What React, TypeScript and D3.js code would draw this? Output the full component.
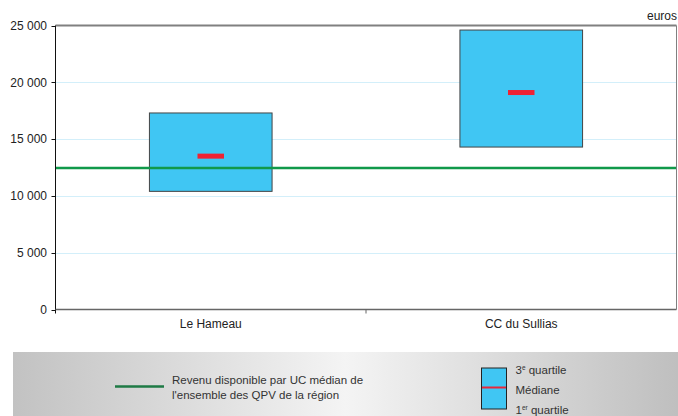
import React from "react";
import * as d3 from "d3";

const categories = ["Le Hameau", "CC du Sullias"];
const q1 = [10400, 14300];
const median = [13500, 19100];
const q3 = [17300, 24600];
const regionMedian = 12450;
const yTicks = [0, 5000, 10000, 15000, 20000, 25000];
const legendLine = ["Revenu disponible par UC médian de", "l'ensemble des QPV de la région"];

const W = 678, H = 416;
const left = 55.5, right = 676.5, top = 25.5, bottom = 309.5;
const font = "'Liberation Sans', Arial, sans-serif";

export default function App() {
  const x = d3.scaleBand<string>().domain(categories).range([left, right]);
  const y = d3.scaleLinear().domain([0, 25000]).range([bottom, top]);
  const fmt = (v: number) => d3.format(",")(v).replace(/,/g, " ");
  const boxW = x.bandwidth() * 0.395;
  const medW = 26.5;

  return (
    <svg width={W} height={H} style={{ position: "absolute", left: 0, top: 0, fontFamily: font }}>
      <defs>
        <linearGradient id="lg" x1="0" x2="1" y1="0" y2="0">
          <stop offset="0" stopColor="#c2c2c2" />
          <stop offset="0.5" stopColor="#f4f4f4" />
          <stop offset="1" stopColor="#bfbfbf" />
        </linearGradient>
      </defs>
      <rect width={W} height={H} fill="#fff" />
      {yTicks.filter(t => t > 0 && t < 25000).map(t => (
        <line key={t} x1={left} x2={right} y1={Math.round(y(t)) + 0.5} y2={Math.round(y(t)) + 0.5} stroke="#d3effa" strokeWidth={1} />
      ))}
      {categories.map((c, i) => {
        const cx = x(c)! + x.bandwidth() / 2;
        return (
          <g key={c}>
            <rect x={cx - boxW / 2} y={y(q3[i])} width={boxW} height={y(q1[i]) - y(q3[i])} fill="#40c6f3" stroke="#444" strokeWidth={1} />
            <rect x={cx - medW / 2} y={y(median[i]) - 2.5} width={medW} height={5} fill="#ee2233" />
          </g>
        );
      })}
      <line x1={left} x2={right} y1={y(regionMedian)} y2={y(regionMedian)} stroke="#10994a" strokeWidth={2.5} />
      <line x1={left} x2={right} y1={top} y2={top} stroke="#808080" strokeWidth={2} />
      <line x1={right} x2={right} y1={top} y2={bottom} stroke="#808080" strokeWidth={1} />
      <line x1={left} x2={left} y1={top} y2={bottom + 4} stroke="#111" strokeWidth={1} />
      <line x1={left} x2={right} y1={bottom} y2={bottom} stroke="#666" strokeWidth={1.5} />
      {yTicks.map(t => (
        <g key={t}>
          <line x1={left - 4} x2={left} y1={Math.round(y(t)) + 0.5} y2={Math.round(y(t)) + 0.5} stroke="#111" />
          <text x={47} y={y(t)} dy="0.35em" textAnchor="end" fontSize={12} fill="#222">{fmt(t)}</text>
        </g>
      ))}
      <line x1={x(categories[1])!} x2={x(categories[1])!} y1={bottom} y2={bottom + 4} stroke="#666" />
      {categories.map(c => (
        <text key={c} x={x(c)! + x.bandwidth() / 2} y={328} textAnchor="middle" fontSize={12} fill="#222">{c}</text>
      ))}
      <text x={677} y={20} textAnchor="end" fontSize={12} fill="#222">euros</text>
      <rect x={13} y={352} width={W - 13} height={H - 352} fill="url(#lg)" />
      <line x1={115} x2={164} y1={386.5} y2={386.5} stroke="#1e7a45" strokeWidth={2.5} />
      {legendLine.map((t, i) => (
        <text key={i} x={172} y={380 + i * 15} dy="0.35em" fontSize={11.5} fill="#333">{t}</text>
      ))}
      <rect x={481.5} y={368} width={25} height={41} fill="#40c6f3" stroke="#222" strokeWidth={1} />
      <line x1={482} x2={506} y1={387.5} y2={387.5} stroke="#e8263a" strokeWidth={2} />
      <text x={515.5} y={369.5} dy="0.35em" fontSize={11.5} fill="#333">3<tspan fontSize={6.5} dy="-4">e</tspan><tspan dy="4"> quartile</tspan></text>
      <text x={515.5} y={390} dy="0.35em" fontSize={11.5} fill="#333">Médiane</text>
      <text x={515.5} y={410} dy="0.35em" fontSize={11.5} fill="#333">1<tspan fontSize={6.5} dy="-4">er</tspan><tspan dy="4"> quartile</tspan></text>
    </svg>
  );
}
